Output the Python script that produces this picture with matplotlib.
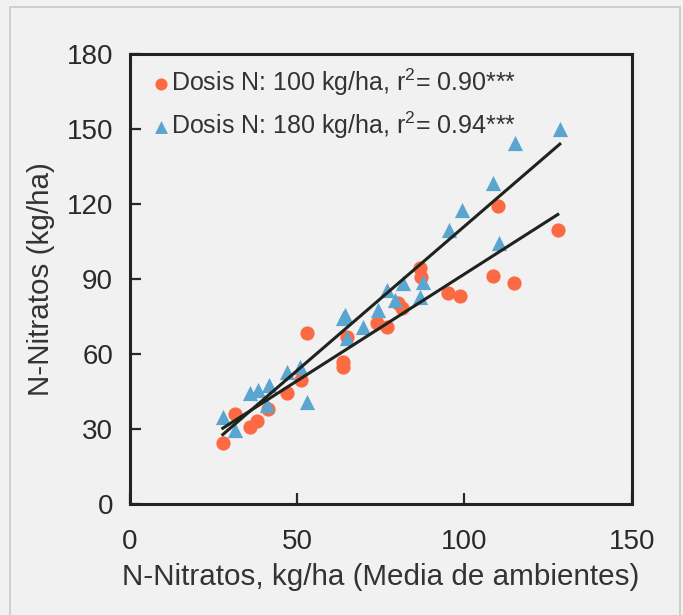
import numpy as np
import matplotlib
matplotlib.use("Agg")
import matplotlib.pyplot as plt
from matplotlib.patches import Rectangle

# Datos (N-Nitratos, kg/ha)
x_100 = [27.8, 31.5, 35.9, 37.9, 41.2, 46.9, 51.2, 52.9, 63.6, 63.6, 65.0,
         73.8, 76.8, 80.0, 81.3, 86.6, 87.0, 95.0, 98.6, 108.5, 110.0,
         114.7, 127.9]
y_100 = [24.4, 36.0, 31.0, 33.4, 38.0, 44.6, 49.6, 68.4, 56.8, 54.8, 67.0,
         72.4, 70.8, 80.5, 78.4, 94.4, 90.8, 84.4, 83.2, 91.2, 119.2,
         88.4, 109.6]

x_180 = [27.8, 31.4, 35.9, 38.2, 41.5, 40.9, 46.9, 50.8, 52.9, 63.6, 64.2,
         64.8, 69.6, 74.1, 76.8, 79.2, 81.6, 86.6, 87.5, 95.3, 99.2,
         108.5, 110.2, 115.0, 128.5]
y_180 = [34.8, 29.6, 44.4, 45.6, 47.6, 39.6, 52.8, 54.8, 40.8, 74.4, 75.6,
         66.4, 70.8, 77.6, 85.6, 81.6, 88.4, 82.8, 88.8, 109.6, 117.6,
         128.4, 104.4, 144.4, 150.0]

etiquetas = ["Dosis N: 100 kg/ha, r$^2$= 0.90***",
             "Dosis N: 180 kg/ha, r$^2$= 0.94***"]

plt.rcParams['font.family'] = ['Liberation Sans', 'DejaVu Sans']
plt.rcParams['mathtext.fontset'] = 'custom'
plt.rcParams['mathtext.rm'] = 'Liberation Sans'

bg = '#f1f1f1'
fig = plt.figure(figsize=(6.83, 6.15), dpi=100, facecolor=bg)
ax = fig.add_axes([0.190, 0.1805, 0.735, 0.7315], facecolor=bg)

# Marco exterior
fig.patches.append(Rectangle((10 / 683, -0.01), 670 / 683, 1 - 7 / 615 + 0.01,
                             transform=fig.transFigure, fill=False,
                             edgecolor='#c9c9c9', linewidth=1.2))

ax.scatter(x_100, y_100, s=105, marker='o', color='#fc6a44', linewidths=0,
           label=etiquetas[0], zorder=2)
ax.scatter(x_180, y_180, s=120, marker='^', color='#5aa6d0', linewidths=0,
           label=etiquetas[1], zorder=2)

# Rectas de regresion
for xs, ys in [(x_100, y_100), (x_180, y_180)]:
    p = np.polyfit(xs, ys, 1)
    xr = np.array([min(xs), max(xs)])
    ax.plot(xr, np.polyval(p, xr), color='#1e231e', lw=2.2, zorder=3)

ax.set_xlim(0, 150)
ax.set_ylim(0, 180)
ax.set_xticks([0, 50, 100, 150])
ax.set_yticks(np.arange(0, 181, 30))
ax.tick_params(direction='in', length=8, width=1.6, labelsize=20,
               colors='#2a2a2a')
ax.tick_params(axis='x', pad=18)
ax.tick_params(axis='y', pad=12)
for s in ax.spines.values():
    s.set_linewidth(2.2)
    s.set_color('#222222')

ax.set_xlabel('N-Nitratos, kg/ha (Media de ambientes)', fontsize=21.3,
              color='#333333', labelpad=6)
ax.set_ylabel('N-Nitratos (kg/ha)', fontsize=21.3, color='#333333',
              labelpad=8)

ax.legend(loc='upper left', frameon=False, fontsize=18, handletextpad=-0.35,
          handlelength=1.5, borderaxespad=0.1, borderpad=0.4,
          labelspacing=0.45, markerscale=0.85, labelcolor='#333333')

fig.savefig('out.png', dpi=100, facecolor=bg)
